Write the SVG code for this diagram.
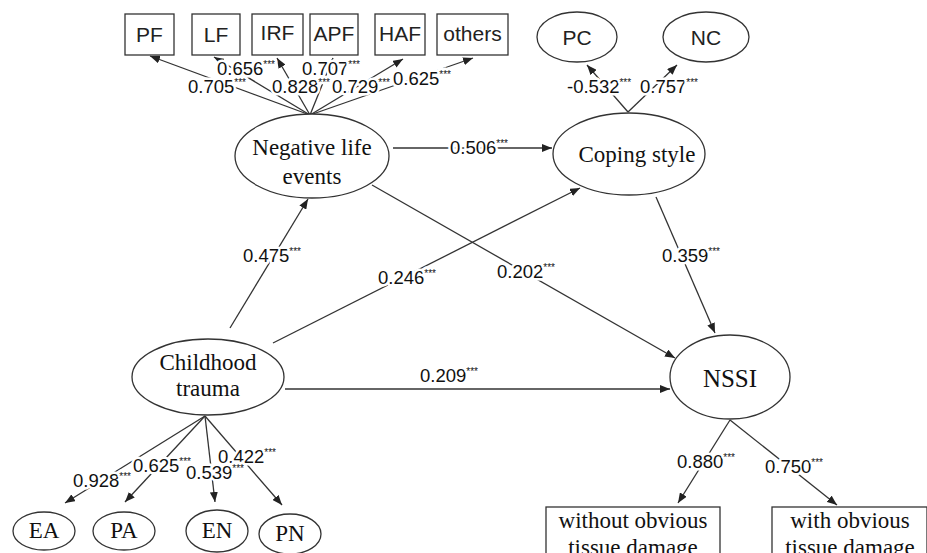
<svg xmlns="http://www.w3.org/2000/svg" width="927" height="553" viewBox="0 0 927 553">
<defs>
<marker id="ah" markerUnits="userSpaceOnUse" markerWidth="10" markerHeight="8" refX="10" refY="4" orient="auto">
<path d="M0,0 L10,4 L0,8 z" fill="#222"/>
</marker>
<style>
.n{fill:#fff;stroke:#333;stroke-width:1.3}
.c line{stroke:#333;stroke-width:1.3;marker-end:url(#ah)}
.ts{font-family:"Liberation Serif","Times New Roman",serif;font-size:23px;fill:#111;text-anchor:middle}
.ss{font-family:"Liberation Sans",Arial,sans-serif;font-size:21px;fill:#222;text-anchor:middle}
.lb{font-family:"Liberation Sans",Arial,sans-serif;font-size:18.5px;fill:#111;stroke:#fff;stroke-width:5;paint-order:stroke;stroke-linejoin:round}
.st{font-size:10px}
</style>
</defs>
<rect width="927" height="553" fill="#fff"/>
<g id="connectors" class="c">
<line x1="310" y1="115" x2="150" y2="56"/>
<line x1="310" y1="115" x2="214" y2="57"/>
<line x1="310" y1="115" x2="277" y2="58"/>
<line x1="310" y1="115" x2="333" y2="58"/>
<line x1="310" y1="115" x2="403" y2="59"/>
<line x1="310" y1="115" x2="473" y2="58"/>
<line x1="628" y1="112" x2="587" y2="65"/>
<line x1="628" y1="112" x2="677" y2="65"/>
<line x1="230" y1="328" x2="308" y2="199"/>
<line x1="393" y1="148" x2="552" y2="148"/>
<line x1="273" y1="343" x2="580" y2="188"/>
<line x1="372" y1="185" x2="675" y2="358"/>
<line x1="656" y1="197" x2="715" y2="333"/>
<line x1="285" y1="389" x2="670" y2="389"/>
<line x1="205" y1="416" x2="65" y2="503"/>
<line x1="205" y1="416" x2="125" y2="502"/>
<line x1="205" y1="416" x2="215" y2="502"/>
<line x1="205" y1="416" x2="282" y2="505"/>
<line x1="730" y1="420" x2="678" y2="503"/>
<line x1="730" y1="420" x2="837" y2="505"/>
</g>
<g id="labels">
<text class="lb" x="188" y="93">0.705<tspan class="st" dy="-7">***</tspan></text>
<text class="lb" x="217" y="75">0.656<tspan class="st" dy="-7">***</tspan></text>
<text class="lb" x="302" y="75">0.707<tspan class="st" dy="-7">***</tspan></text>
<text class="lb" x="272" y="93">0.828<tspan class="st" dy="-7">***</tspan></text>
<text class="lb" x="332" y="93">0.729<tspan class="st" dy="-7">***</tspan></text>
<text class="lb" x="393" y="85">0.625<tspan class="st" dy="-7">***</tspan></text>
<text class="lb" x="567" y="93">-0.532<tspan class="st" dy="-7">***</tspan></text>
<text class="lb" x="640" y="93">0.757<tspan class="st" dy="-7">***</tspan></text>
<text class="lb" x="450" y="154">0.506<tspan class="st" dy="-7">***</tspan></text>
<text class="lb" x="243" y="262">0.475<tspan class="st" dy="-7">***</tspan></text>
<text class="lb" x="378" y="284">0.246<tspan class="st" dy="-7">***</tspan></text>
<text class="lb" x="497" y="278">0.202<tspan class="st" dy="-7">***</tspan></text>
<text class="lb" x="662" y="262">0.359<tspan class="st" dy="-7">***</tspan></text>
<text class="lb" x="420" y="382">0.209<tspan class="st" dy="-7">***</tspan></text>
<text class="lb" x="677" y="468">0.880<tspan class="st" dy="-7">***</tspan></text>
<text class="lb" x="765" y="473">0.750<tspan class="st" dy="-7">***</tspan></text>
<text class="lb" x="73" y="487">0.928<tspan class="st" dy="-7">***</tspan></text>
<text class="lb" x="218" y="463">0.422<tspan class="st" dy="-7">***</tspan></text>
<text class="lb" x="133" y="472">0.625<tspan class="st" dy="-7">***</tspan></text>
<text class="lb" x="186" y="479">0.539<tspan class="st" dy="-7">***</tspan></text>
</g>
<g id="PF"><rect class="n" x="125" y="14" width="49" height="41"/><text class="ss" x="149.5" y="42">PF</text></g>
<g id="LF"><rect class="n" x="192" y="14" width="48" height="41"/><text class="ss" x="216" y="42">LF</text></g>
<g id="IRF"><rect class="n" x="252" y="14" width="51" height="41"/><text class="ss" x="277.5" y="40">IRF</text></g>
<g id="APF"><rect class="n" x="310" y="14" width="48" height="41"/><text class="ss" x="334" y="41">APF</text></g>
<g id="HAF"><rect class="n" x="375" y="14" width="50" height="41"/><text class="ss" x="400" y="41">HAF</text></g>
<g id="others"><rect class="n" x="437" y="14" width="71" height="41"/><text class="ss" x="472.5" y="41">others</text></g>
<g id="PC"><ellipse class="n" cx="577" cy="37" rx="40" ry="25"/><text class="ss" x="577" y="45">PC</text></g>
<g id="NC"><ellipse class="n" cx="706" cy="37" rx="43" ry="25"/><text class="ss" x="706" y="45">NC</text></g>
<g id="NLE"><ellipse class="n" cx="312" cy="156" rx="77" ry="42"/><text class="ts" x="312" y="155">Negative life</text><text class="ts" x="312" y="184">events</text></g>
<g id="CS"><ellipse class="n" cx="629" cy="154" rx="76" ry="41"/><text class="ts" x="637" y="162">Coping style</text></g>
<g id="CT"><ellipse class="n" cx="208" cy="377" rx="76" ry="38"/><text class="ts" x="208" y="370">Childhood</text><text class="ts" x="208" y="396">trauma</text></g>
<g id="NSSI"><ellipse class="n" cx="730" cy="377" rx="60" ry="42"/><text class="ts" x="730" y="387" style="font-size:25px">NSSI</text></g>
<g id="EA"><ellipse class="n" cx="44" cy="531" rx="31" ry="19"/><text class="ts" x="44" y="538">EA</text></g>
<g id="PA"><ellipse class="n" cx="124" cy="531" rx="31" ry="19"/><text class="ts" x="124" y="538">PA</text></g>
<g id="EN"><ellipse class="n" cx="217" cy="531" rx="31" ry="21"/><text class="ts" x="217" y="538">EN</text></g>
<g id="PN"><ellipse class="n" cx="290" cy="534" rx="31" ry="20"/><text class="ts" x="290" y="541">PN</text></g>
<g id="without"><rect class="n" x="546" y="507" width="174" height="60"/><text class="ts" x="633" y="528">without obvious</text><text class="ts" x="633" y="555">tissue damage</text></g>
<g id="with"><rect class="n" x="772" y="507" width="155" height="60"/><text class="ts" x="850" y="528">with obvious</text><text class="ts" x="850" y="555">tissue damage</text></g>
</svg>
